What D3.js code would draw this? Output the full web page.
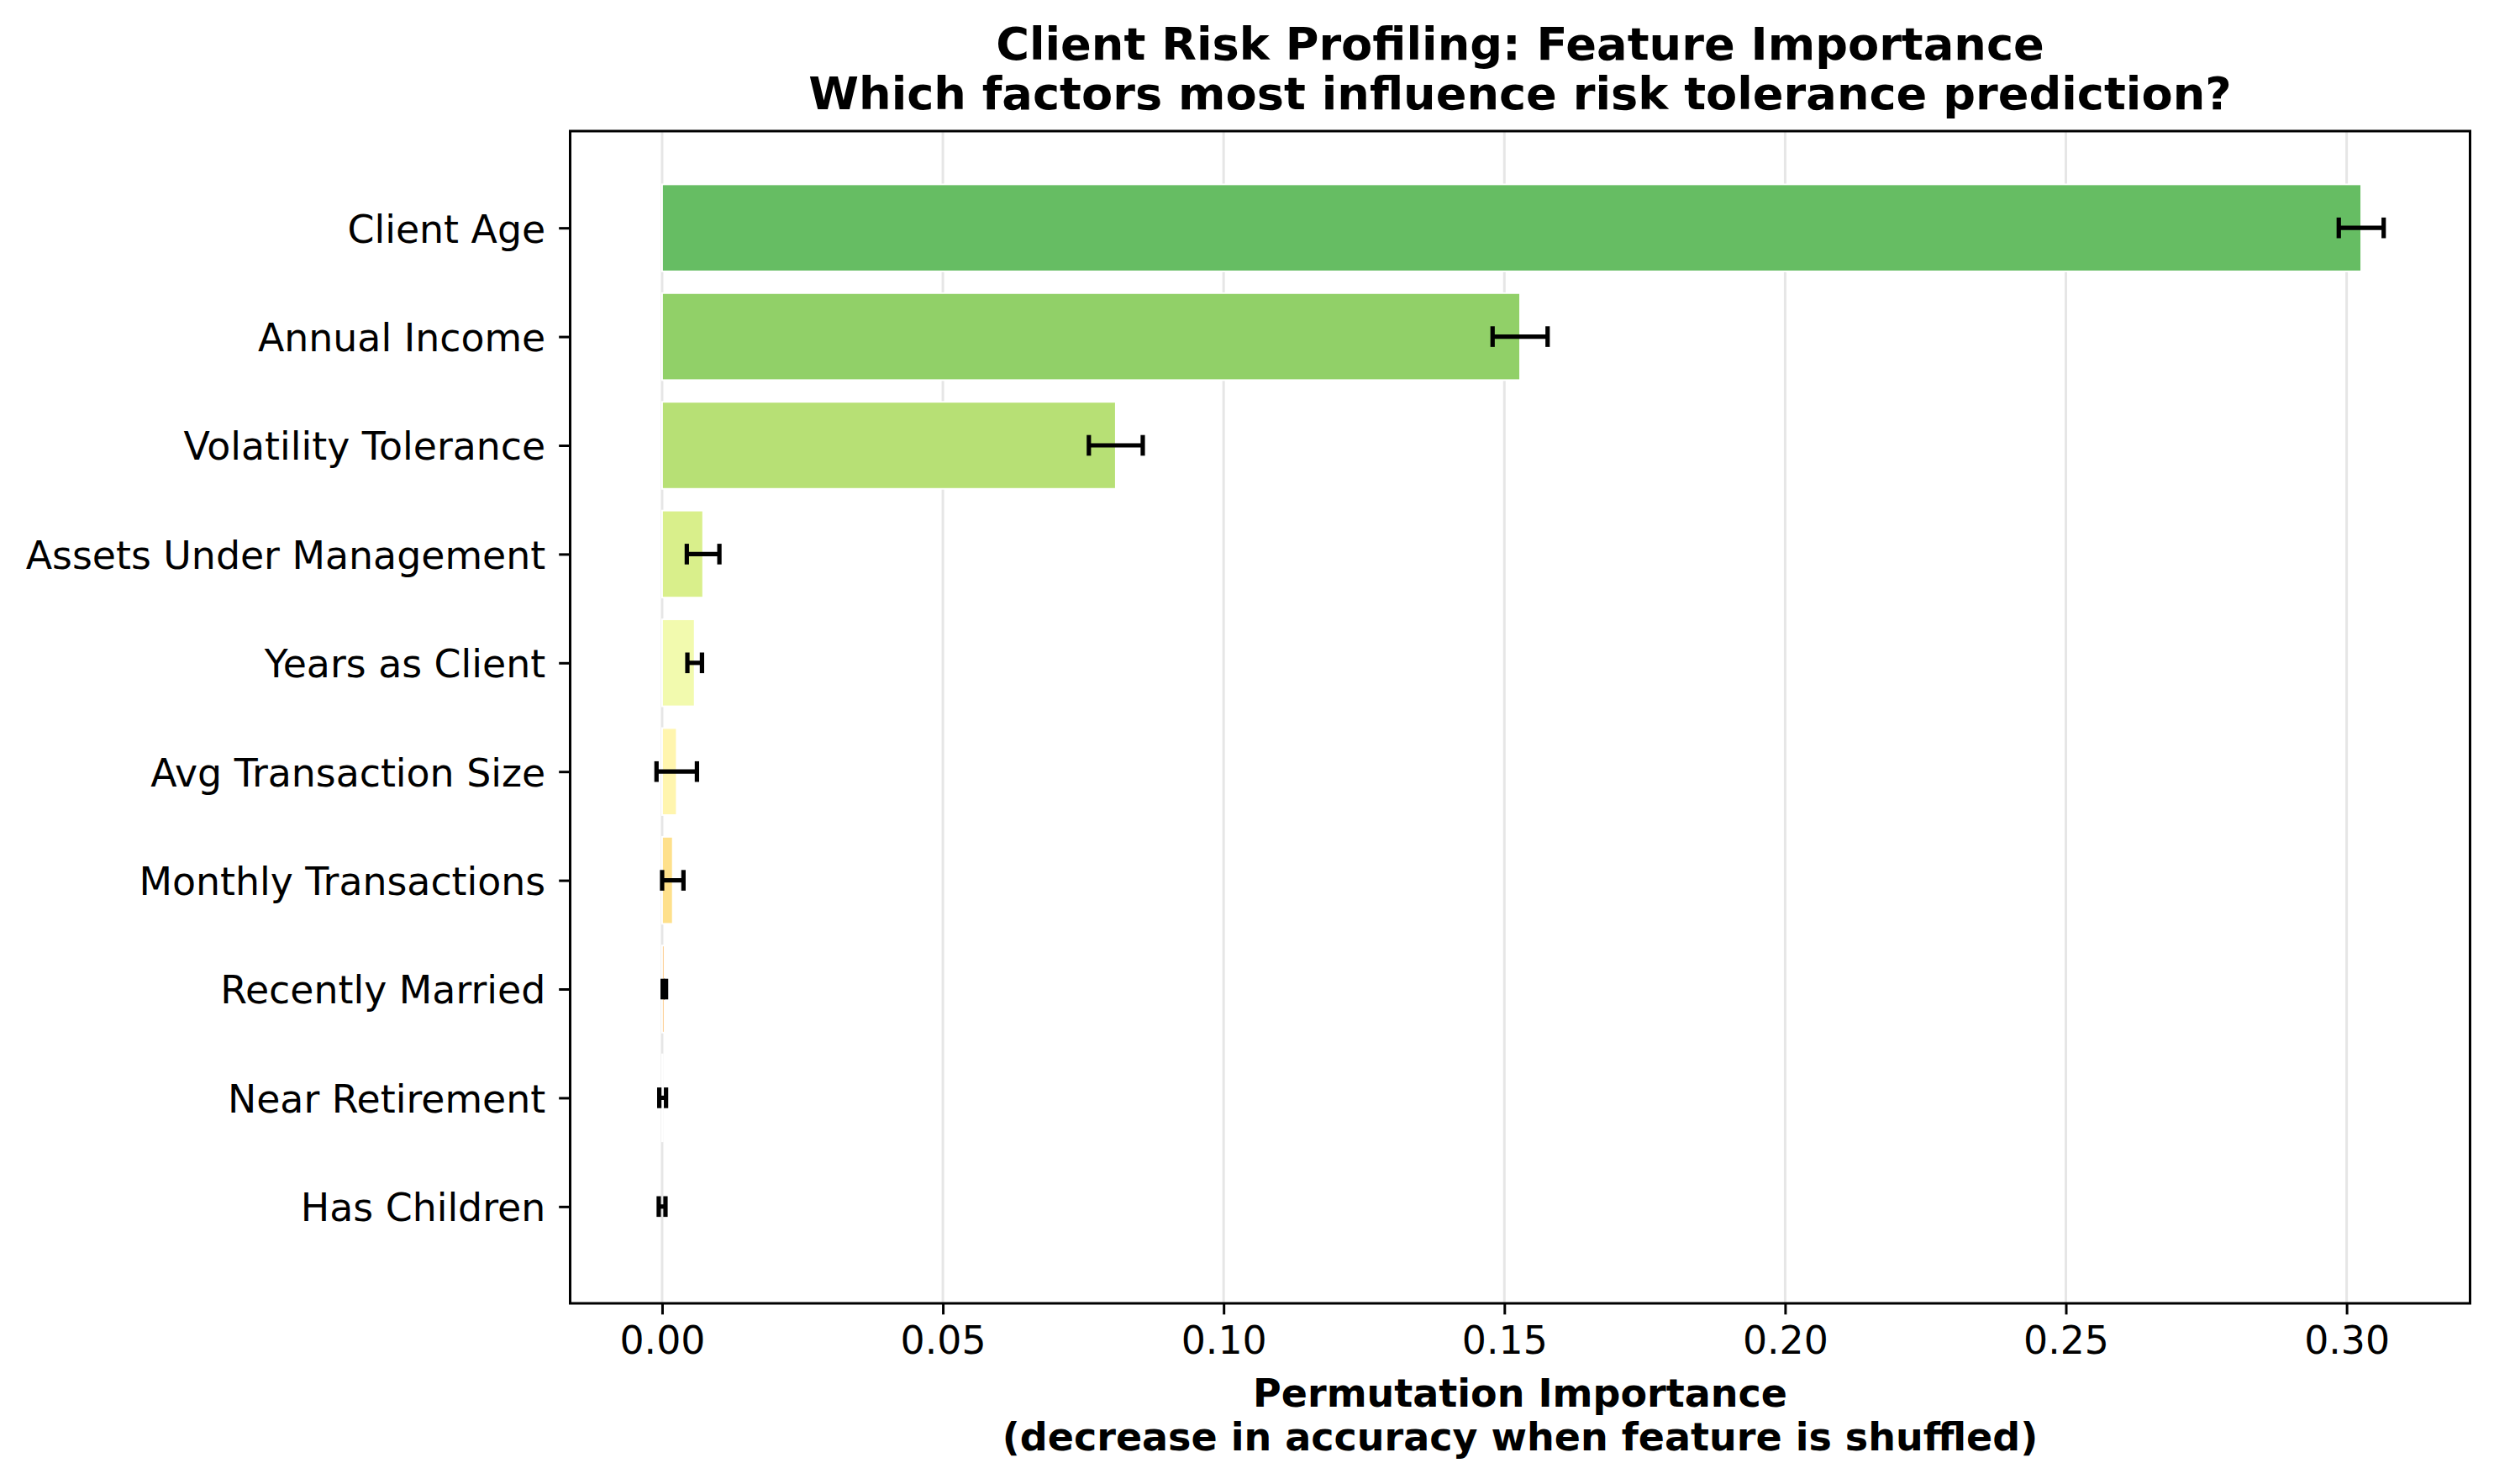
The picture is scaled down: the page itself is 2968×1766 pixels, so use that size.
<!DOCTYPE html>
<html>
<head>
<meta charset="utf-8">
<script src="https://cdn.jsdelivr.net/npm/d3@7"></script>
<style>
  html, body { margin: 0; padding: 0; background: #ffffff; }
  svg { display: block; font-family: "DejaVu Sans", sans-serif; }
</style>
</head>
<body>
<svg id="chart" width="2968" height="1766"></svg>
<script>
// ---------------- data ----------------
const features = [
  "Client Age",
  "Annual Income",
  "Volatility Tolerance",
  "Assets Under Management",
  "Years as Client",
  "Avg Transaction Size",
  "Monthly Transactions",
  "Recently Married",
  "Near Retirement",
  "Has Children"
];
const importanceMean = [0.3026, 0.1528, 0.0808, 0.0073, 0.0058, 0.0026, 0.0019, 0.0004, 0.0001, 0.0000];
const importanceStd  = [0.0040, 0.0049, 0.0048, 0.0029, 0.0013, 0.0036, 0.0019, 0.0003, 0.0006, 0.0006];
const xTickValues = [0.00, 0.05, 0.10, 0.15, 0.20, 0.25, 0.30];
const titleLines = ["Client Risk Profiling: Feature Importance", "Which factors most influence risk tolerance prediction?"];
const xLabelLines = ["Permutation Importance", "(decrease in accuracy when feature is shuffled)"];

// ---------------- styles / layout ----------------
const W = 2968, H = 1766;
const plot = { left: 678.5, right: 2939.5, top: 156, bottom: 1551 };
const tickFont = 45.8, titleFont = 54.2, labelFont = 46;
// matplotlib RdYlGn stops (linear segmented)
const rdylgnStops = ["#a50026","#d73027","#f46d43","#fdae61","#fee08b","#ffffbf","#d9ef8b","#a6d96a","#66bd63","#1a9850","#006837"];
const rdylgn = d3.scaleLinear().domain(d3.range(11).map(i => i / 10)).range(rdylgnStops).interpolate(d3.interpolateRgb);
const colorT = features.map((_, i) => 0.8 - i * (0.6 / (features.length - 1)));

const svg = d3.select("#chart");
svg.append("rect").attr("width", W).attr("height", H).attr("fill", "#ffffff");

// scales (matplotlib-like 5% margins)
const lows = importanceMean.map((v, i) => Math.min(0, v - importanceStd[i]));
const highs = importanceMean.map((v, i) => Math.max(0, v + importanceStd[i]));
const xmin = d3.min(lows), xmax = d3.max(highs);
const xpad = (xmax - xmin) * 0.05;
const x = d3.scaleLinear().domain([xmin - xpad, xmax + xpad]).range([plot.left, plot.right]);

const barH = 0.8;
const n = features.length;
const ylo = -barH / 2, yhi = (n - 1) + barH / 2;
const ypad = (yhi - ylo) * 0.05;
const y = d3.scaleLinear().domain([ylo - ypad, yhi + ypad]).range([plot.top, plot.bottom]);

// grid
const g = svg.append("g");
g.selectAll("line.grid").data(xTickValues).enter().append("line")
  .attr("class", "grid")
  .attr("x1", d => x(d)).attr("x2", d => x(d))
  .attr("y1", plot.top).attr("y2", plot.bottom)
  .attr("stroke", "#e6e6e6").attr("stroke-width", 3);

// bars
g.selectAll("rect.bar").data(features).enter().append("rect")
  .attr("class", "bar")
  .attr("x", (d, i) => Math.min(x(0), x(importanceMean[i])))
  .attr("width", (d, i) => Math.abs(x(importanceMean[i]) - x(0)))
  .attr("y", (d, i) => y(i - barH / 2))
  .attr("height", (d, i) => y(i + barH / 2) - y(i - barH / 2))
  .attr("fill", (d, i) => rdylgn(colorT[i]))
  .attr("stroke", "#ffffff").attr("stroke-width", 1.9);

// error bars
const capHalf = 12.3, eW = 5.2;
const eb = g.append("g").attr("stroke", "#000").attr("stroke-width", eW);
features.forEach((f, i) => {
  const lo = importanceMean[i] - importanceStd[i];
  const hi = importanceMean[i] + importanceStd[i];
  const yc = y(i);
  eb.append("line").attr("x1", x(lo)).attr("x2", x(hi)).attr("y1", yc).attr("y2", yc);
  eb.append("line").attr("x1", x(lo)).attr("x2", x(lo)).attr("y1", yc - capHalf).attr("y2", yc + capHalf);
  eb.append("line").attr("x1", x(hi)).attr("x2", x(hi)).attr("y1", yc - capHalf).attr("y2", yc + capHalf);
});

// axes
const xAxis = d3.axisBottom(x).tickValues(xTickValues).tickFormat(d3.format(".2f"))
  .tickSize(13.3).tickPadding(14);
const xg = svg.append("g").attr("transform", `translate(0,${plot.bottom})`).call(xAxis);
xg.select(".domain").remove();
xg.selectAll(".tick line").attr("stroke", "#000").attr("stroke-width", 3);
xg.selectAll(".tick text").attr("font-size", tickFont).attr("fill", "#000")
  .attr("font-family", "DejaVu Sans").attr("dy", "0.71em");

const yAxis = d3.axisLeft(y).tickValues(d3.range(n)).tickFormat(i => features[i])
  .tickSize(13.3).tickPadding(16);
const yg = svg.append("g").attr("transform", `translate(${plot.left},0)`).call(yAxis);
yg.select(".domain").remove();
yg.selectAll(".tick line").attr("stroke", "#000").attr("stroke-width", 3);
yg.selectAll(".tick text").attr("font-size", tickFont).attr("fill", "#000")
  .attr("font-family", "DejaVu Sans").attr("dy", "0.37em");

// spines
svg.append("rect")
  .attr("x", plot.left).attr("y", plot.top)
  .attr("width", plot.right - plot.left).attr("height", plot.bottom - plot.top)
  .attr("fill", "none").attr("stroke", "#000").attr("stroke-width", 3);

// title
const cx = (plot.left + plot.right) / 2;
const titleBase = [71, 130];
svg.selectAll("text.title").data(titleLines).enter().append("text")
  .attr("class", "title")
  .attr("x", cx).attr("y", (d, i) => titleBase[i])
  .attr("text-anchor", "middle").attr("font-weight", "bold")
  .attr("font-size", titleFont).attr("fill", "#000")
  .text(d => d);

// x label
const labelBase = [1674, 1726];
svg.selectAll("text.xlabel").data(xLabelLines).enter().append("text")
  .attr("class", "xlabel")
  .attr("x", cx).attr("y", (d, i) => labelBase[i])
  .attr("text-anchor", "middle").attr("font-weight", "bold")
  .attr("font-size", labelFont).attr("fill", "#000")
  .text(d => d);
</script>
</body>
</html>
